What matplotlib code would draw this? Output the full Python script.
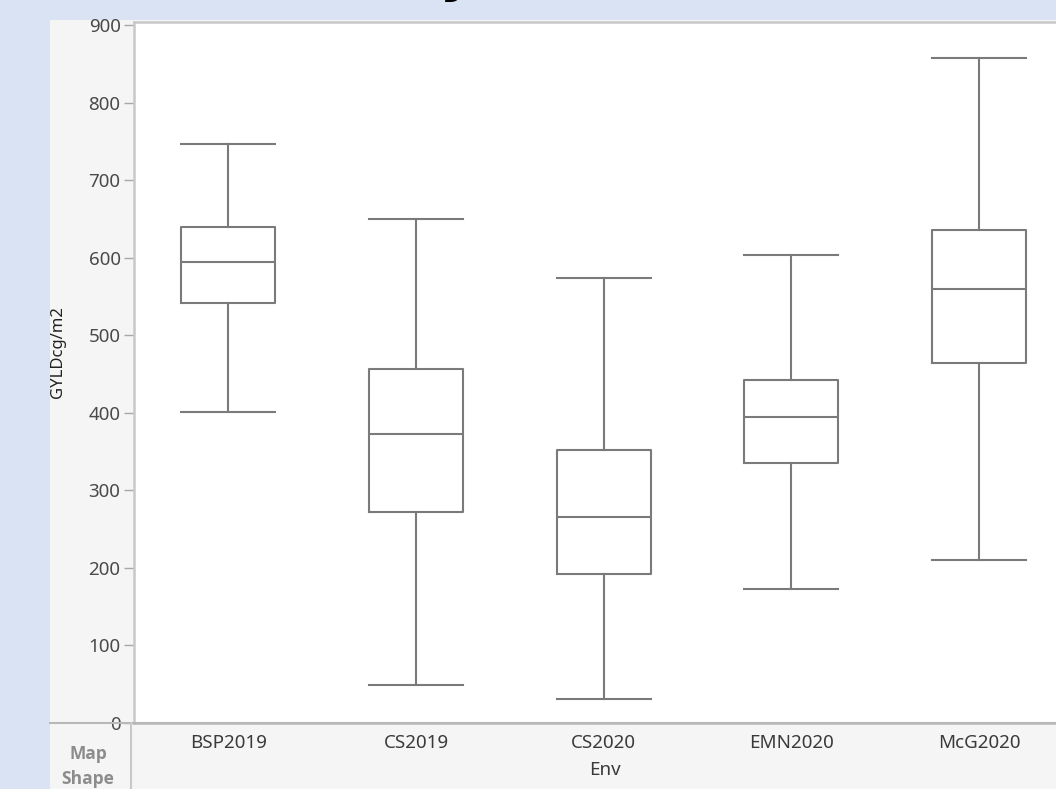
import matplotlib
matplotlib.use("Agg")
import matplotlib.pyplot as plt
from matplotlib.patches import Rectangle
from matplotlib.lines import Line2D

# ---- data ----
envs = ["BSP2019", "CS2019", "CS2020", "EMN2020", "McG2020"]
whisker_low = [401, 49, 31, 172, 210]
q1 = [541, 272, 192, 335, 464]
median = [594, 373, 265, 394, 560]
q3 = [640, 456, 352, 442, 636]
whisker_high = [747, 650, 574, 604, 858]
y_ticks = [0, 100, 200, 300, 400, 500, 600, 700, 800, 900]
x_label = "Env"
y_label = "GYLDcg/m2"

W, H = 1056, 789
fig = plt.figure(figsize=(W / 100, H / 100), dpi=100)
fig.patch.set_facecolor("#dae3f3")

def fx(px):
    return px / W

def fy(py):
    return 1 - py / H

# gray frame panel (behind the axes)
fig.patches.append(Rectangle((fx(50), 0), 1 - fx(50), fy(20), transform=fig.transFigure,
                             facecolor="#f5f5f5", edgecolor="none", zorder=-5))

# axes: right side extends beyond the figure (cropped like the reference)
left_px, right_px, top_px, bot_px = 134.4, 1073.0, 22.0, 722.7
ax = fig.add_axes([fx(left_px), fy(bot_px), (right_px - left_px) / W, (bot_px - top_px) / H])
ax.set_facecolor("white")

stats = []
for i, name in enumerate(envs):
    stats.append(dict(label=name, whislo=whisker_low[i], q1=q1[i], med=median[i],
                      q3=q3[i], whishi=whisker_high[i], fliers=[]))

lc = "#7a7a7a"
ax.bxp(stats, positions=range(len(envs)), widths=0.5, capwidths=0.5,
       showfliers=False, patch_artist=False,
       boxprops=dict(color=lc, linewidth=1.5),
       whiskerprops=dict(color=lc, linewidth=1.5),
       capprops=dict(color=lc, linewidth=1.5),
       medianprops=dict(color=lc, linewidth=1.5))

ax.set_xlim(-0.5, len(envs) - 0.5)
ax.set_ylim(0, 904)
ax.set_yticks(y_ticks)
ax.set_yticklabels([str(t) for t in y_ticks])
ax.set_xticks(range(len(envs)))
ax.set_xticklabels(envs)

font = "Noto Sans"
ax.tick_params(axis="y", direction="out", length=7, width=1, color="#a8a8a8",
               labelcolor="#4a4a4a", labelsize=13.5, pad=3)
ax.tick_params(axis="x", length=0, labelcolor="#3a3a3a", labelsize=13.5, pad=8)
for lab in ax.get_xticklabels() + ax.get_yticklabels():
    lab.set_fontfamily(font)

for side in ["left", "top", "bottom", "right"]:
    ax.spines[side].set_color("#c8c8c8")
    ax.spines[side].set_linewidth(1.8)
ax.spines["bottom"].set_color("#b8b8b8")

# separating lines in the frame
fig.add_artist(Line2D([fx(50), 1], [fy(bot_px), fy(bot_px)], transform=fig.transFigure,
                      color="#b8b8b8", linewidth=1.5, zorder=5))
fig.add_artist(Line2D([fx(130.5), fx(130.5)], [fy(bot_px), 0], transform=fig.transFigure,
                      color="#c8c8c8", linewidth=1.5, zorder=5))

# axis labels
fig.text(fx(605), fy(770), x_label, ha="center", va="center", fontsize=13.5,
         color="#3a3a3a", family=font)
fig.text(fx(58), fy(352), y_label, ha="center", va="center", rotation=90, fontsize=12,
         color="#222222", family=font)

# frame caption
bold_font = ["Open Sans", "DejaVu Sans"]
fig.text(fx(88), fy(754), "Map", ha="center", va="center", fontsize=12.5,
         fontweight="bold", color="#8c8c8c", family=bold_font)
fig.text(fx(88), fy(779), "Shape", ha="center", va="center", fontsize=12.5,
         fontweight="bold", color="#8c8c8c", family=bold_font)

# descender of the slide title, cropped at the top edge
fig.text(fx(461), fy(-8), "y", ha="center", va="baseline", fontsize=36,
         fontweight="bold", fontstyle="italic", color="black", family="DejaVu Sans")

fig.savefig("out.png", dpi=100, facecolor=fig.get_facecolor())
